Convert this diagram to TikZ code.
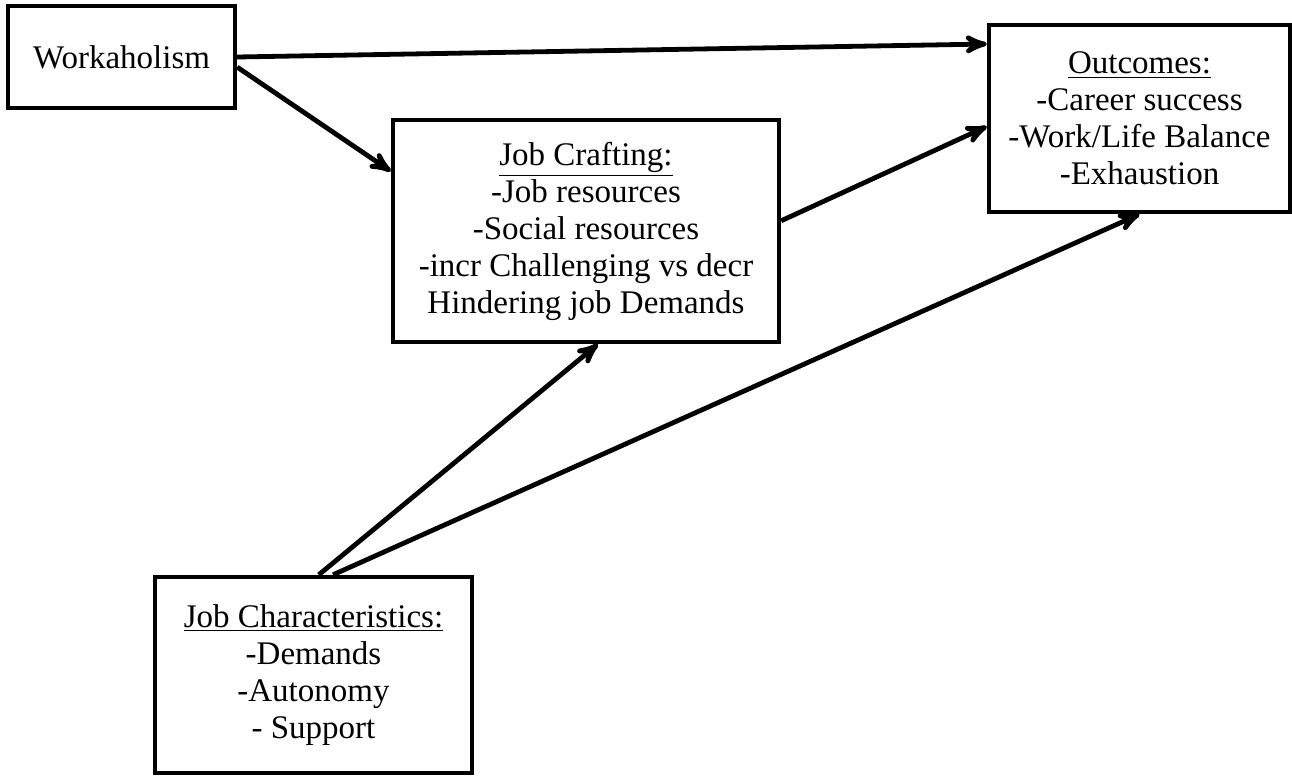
\documentclass[tikz,border=0pt]{standalone}
\usepackage{fontspec}
\setmainfont{Liberation Serif}
\usepackage{tikz}
\usetikzlibrary{arrows}

\begin{document}
\begin{tikzpicture}[x=0.5pt,y=-0.5pt,->,>=stealth',shorten >=0pt,
  line width=2.4pt,
  box/.style={rectangle,draw,line width=2.2pt,align=center,inner sep=0pt,
    font=\fontsize{16.5}{18.5}\selectfont}]

  \useasboundingbox (0,0) rectangle (1292,776);

  \node[box,minimum width=113.5pt,minimum height=51pt] (work) at (121.5,57) {Workaholism};
  \node[box,minimum width=193pt,minimum height=111pt] (craft) at (586,231)
    {\underline{Job Crafting:}\\-Job resources\\-Social resources\\-incr Challenging vs decr\\Hindering job Demands};
  \node[box,minimum width=150.5pt,minimum height=93.5pt] (outcome) at (1139.5,118.5)
    {\underline{Outcomes:}\\-Career success\\-Work/Life Balance\\-Exhaustion};
  \node[box,minimum width=158.5pt,minimum height=98pt] (chars) at (313.5,675)
    {\underline{Job Characteristics:}\\-Demands\\-Autonomy\\- Support};

  \path
    (work.east)  edge (outcome.154)
    (work.-5)    edge (craft.163)
    (craft.3)    edge (outcome.183)
    (chars.87)   edge (craft.-84)
    (chars.79)   edge (outcome.south);
\end{tikzpicture}
\end{document}
